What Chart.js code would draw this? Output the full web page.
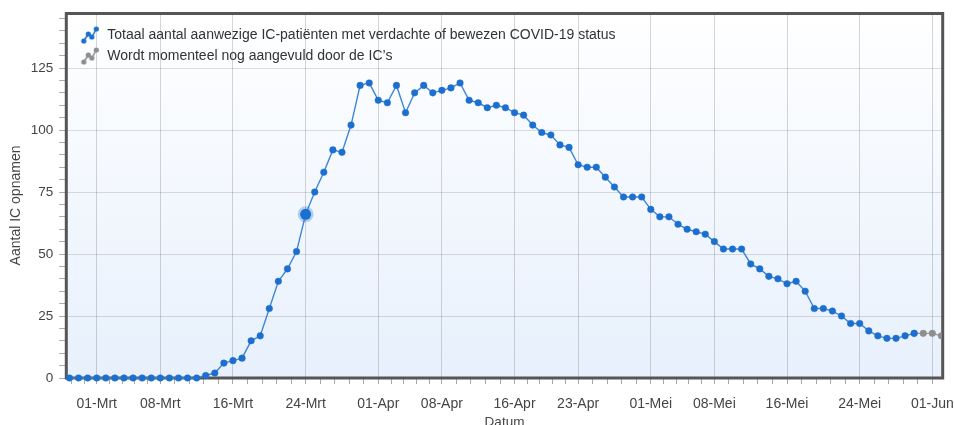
<!DOCTYPE html>
<html><head><meta charset="utf-8">
<script src="https://cdn.jsdelivr.net/npm/chart.js@4.4.0/dist/chart.umd.min.js"></script>
<style>html,body{margin:0;padding:0;background:#fff;}#wrap{width:954px;height:425px;position:relative;}canvas{display:block;}</style>
</head><body><div id="wrap"><canvas id="c" width="954" height="425" style="width:954px;height:425px"></canvas></div>
<script>
// ---- data ----
const startDate = '2020-02-27';
const seriesLabels = ['Totaal aantal aanwezige IC-patiënten met verdachte of bewezen COVID-19 status', 'Wordt momenteel nog aangevuld door de IC\u2019s'];
// values per day starting 27-Feb (blue series)
const icValues = [0,0,0,0,0,0,0,0,0,0,0,0,0,0,0,
  1,2,6,7,8,15,17,28,39,44,51,66,75,83,92,91,102,118,119,112,
  111,118,107,115,118,115,116,117,119,112,111,109,110,109,107,106,102,99,98,94,
  93,86,85,85,81,77,73,73,73,68,65,65,62,60,59,58,55,52,52,52,
  46,44,41,40,38,39,35,28,28,27,25,22,22,19,17,16,16,17,18];
// values still being completed (grey), starting 30-Mei
const pendingStart = '2020-05-30';
const pendingValues = [18,18,18,17];
const tickLabels = ['01-Mrt','08-Mrt','16-Mrt','24-Mrt','01-Apr','08-Apr','16-Apr','23-Apr','01-Mei','08-Mei','16-Mei','24-Mei','01-Jun'];
const tickDates = ['2020-03-01','2020-03-08','2020-03-16','2020-03-24','2020-04-01','2020-04-08','2020-04-16','2020-04-23','2020-05-01','2020-05-08','2020-05-16','2020-05-24','2020-06-01'];
const highlightDate = '2020-03-24';
const yMajor = [0,25,50,75,100,125];
const xTitle = 'Datum';
const yTitle = 'Aantal IC opnamen';

// ---- helpers ----
const DAY = 86400000;
const t0 = Date.parse(startDate);
const idx = d => Math.round((Date.parse(d) - t0) / DAY);
const totalDays = icValues.length + pendingValues.length - 1;
const dates = Array.from({length: totalDays}, (_, i) => new Date(t0 + i * DAY).toISOString().slice(0, 10));
const blueData = icValues.map((v, i) => ({x: i, y: v}));
const p0 = idx(pendingStart);
const greyData = pendingValues.map((v, i) => ({x: p0 + i, y: v}));
const hiIdx = idx(highlightDate);

// x ticks: majors + 4 minor ticks between majors
const majIdx = tickDates.map(idx);
const xTicks = [];
{
  const first = majIdx[0], step0 = (majIdx[1] - majIdx[0]) / 5;
  for (let k = 2; k >= 1; k--) { const v = first - k * step0; if (v >= -0.3) xTicks.push({value: v, mj: false, lbl: ''}); }
  for (let i = 0; i < majIdx.length; i++) {
    xTicks.push({value: majIdx[i], mj: true, lbl: tickLabels[i]});
    if (i < majIdx.length - 1) {
      const st = (majIdx[i + 1] - majIdx[i]) / 5;
      for (let k = 1; k < 5; k++) xTicks.push({value: majIdx[i] + k * st, mj: false, lbl: ''});
    }
  }
}
const yTicks = [];
for (let v = 0; v <= 145; v += 5) yTicks.push({value: v, mj: yMajor.includes(v), lbl: yMajor.includes(v) ? String(v) : ''});

function icon(color) {
  const c = document.createElement('canvas'); c.width = 26; c.height = 18;
  const g = c.getContext('2d');
  const pts = [[10, 15], [14.5, 8], [18, 11], [22.5, 3]];
  g.strokeStyle = color; g.lineWidth = 1.5; g.beginPath();
  pts.forEach((p, i) => i ? g.lineTo(p[0], p[1]) : g.moveTo(p[0], p[1])); g.stroke();
  g.fillStyle = color;
  pts.forEach(p => { g.beginPath(); g.arc(p[0], p[1], 2.6, 0, Math.PI * 2); g.fill(); });
  return c;
}
const BLUE = '#1c6fcf', GREY = '#8e8e8e';
const icons = [icon(BLUE), icon(GREY)];

const FONT = '"Liberation Sans", Arial, sans-serif';
const plotDeco = {
  id: 'plotDeco',
  beforeDraw(chart) {
    const {ctx, chartArea: a} = chart;
    const g = ctx.createLinearGradient(0, a.top, 0, a.bottom);
    g.addColorStop(0, '#ffffff'); g.addColorStop(1, '#e7f0fc');
    ctx.save(); ctx.fillStyle = g; ctx.fillRect(a.left, a.top, a.right - a.left, a.bottom - a.top); ctx.restore();
  },
  beforeDatasetsDraw(chart) {
    const {ctx, chartArea: a} = chart;
    ctx.save(); ctx.strokeStyle = '#555'; ctx.lineWidth = 3;
    ctx.strokeRect(a.left, a.top, a.right - a.left, a.bottom - a.top); ctx.restore();
  }
};

new Chart(document.getElementById('c'), {
  type: 'line',
  data: {
    labels: dates,
    datasets: [
      {label: seriesLabels[0], data: blueData, borderColor: '#3d86d8', borderWidth: 1.4,
       backgroundColor: BLUE, pointBackgroundColor: BLUE,
       pointRadius: c => c.dataIndex === hiIdx ? 5.5 : 3.3,
       pointBorderWidth: c => c.dataIndex === hiIdx ? 5 : 1,
       pointBorderColor: c => c.dataIndex === hiIdx ? 'rgba(28,111,207,0.3)' : 'rgba(28,111,207,0.45)',
       tension: 0, clip: {left: 8, top: 8, right: -1, bottom: 8}},
      {label: seriesLabels[1], data: greyData, borderColor: '#9a9a9a', borderWidth: 1.4,
       backgroundColor: GREY, pointBackgroundColor: GREY, pointRadius: 3.3, pointBorderWidth: 1,
       pointBorderColor: 'rgba(142,142,142,0.45)', tension: 0, clip: {left: 8, top: 8, right: -1, bottom: 8}}
    ]
  },
  options: {
    responsive: false, animation: false, devicePixelRatio: 1,
    layout: {padding: {top: 13.5, right: 11.3, left: 0, bottom: 0}},
    plugins: {
      tooltip: {enabled: false},
      legend: {
        position: 'chartArea', align: 'start',
        title: {display: true, text: '', font: {size: 1, lineHeight: 1}, padding: {top: 20, bottom: 0}},
        labels: {
          usePointStyle: true, pointStyleWidth: 27, padding: 7, color: '#333',
          font: {family: FONT, size: 14},
          generateLabels: chart => chart.data.datasets.map((ds, i) => ({
            text: ds.label, pointStyle: icons[i], fillStyle: ds.backgroundColor, strokeStyle: ds.backgroundColor,
            lineWidth: 0, hidden: false, datasetIndex: i, fontColor: '#333'
          }))
        }
      }
    },
    scales: {
      x: {
        type: 'linear', min: -0.35, max: 96.14, bounds: 'data',
        afterBuildTicks: s => { s.ticks = xTicks.map(t => ({...t})); },
        afterFit: s => { s.height = 47; s.paddingLeft = 0; s.paddingRight = 0; },
        ticks: {autoSkip: false, maxRotation: 0, minRotation: 0, padding: 12, color: '#444',
                font: {family: FONT, size: 14}, callback: (v, i, t) => t[i].lbl},
        grid: {color: c => (c.tick && c.tick.mj) ? 'rgba(0,0,0,0.16)' : 'rgba(0,0,0,0)',
               tickColor: '#a8a8a8', tickLength: 6, lineWidth: 1},
        border: {display: false},
        title: {display: true, text: xTitle, color: '#444', font: {family: FONT, size: 13.5}, padding: {top: 0, bottom: -5}}
      },
      y: {
        type: 'linear', min: 0, max: 147,
        afterBuildTicks: s => { s.ticks = yTicks.map(t => ({...t})); },
        afterFit: s => { s.width = 66.3; s.paddingTop = 0; s.paddingBottom = 0; },
        ticks: {autoSkip: false, padding: 6, color: '#444', font: {family: FONT, size: 13.5},
                callback: (v, i, t) => t[i].lbl},
        grid: {color: c => (c.tick && c.tick.mj && c.tick.value > 0) ? 'rgba(0,0,0,0.13)' : 'rgba(0,0,0,0)',
               tickColor: '#a8a8a8', tickLength: 7, lineWidth: 1},
        border: {display: false},
        title: {display: true, text: yTitle + '     ', color: '#444', font: {family: FONT, size: 14}, padding: {top: 8, bottom: 0}}
      }
    }
  },
  plugins: [plotDeco]
});
</script></body></html>
